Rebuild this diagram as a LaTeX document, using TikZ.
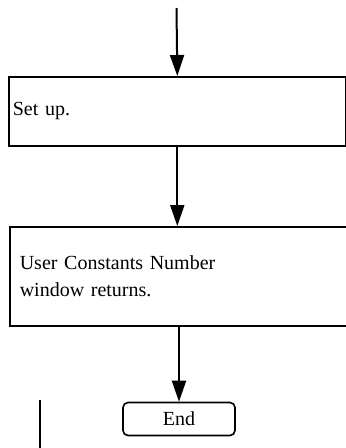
\documentclass[tikz,border=0pt]{standalone}
\usepackage{fontspec}
\setmainfont{Liberation Serif}
\usetikzlibrary{arrows.meta}
\begin{document}
\begin{tikzpicture}[x=1pt,y=-1pt,
  box/.style={draw,line width=1.6pt,anchor=north west,inner xsep=4pt,
    text width=329pt,align=left,font=\fontsize{20}{27}\selectfont},
  endbox/.style={draw,line width=1.6pt,rounded corners=5pt,minimum width=112pt,
    minimum height=33pt,font=\fontsize{20}{24}\selectfont},
  arr/.style={line width=2pt,-{Triangle[length=21pt,width=14pt]}}]
\useasboundingbox (0,0) rectangle (346,448);
\node[box,minimum height=69pt] (b1) at (8,76) {Set up.};
\node[box,minimum height=99pt,inner xsep=10pt,text width=317pt] (b2) at (9,226) {User Constants Number\\window returns.};
\node[endbox] (e) at (179,419) {End};
\coordinate (top) at (176.5,8);
\draw[arr] (top) -- (b1.north);
\draw[arr] (b1.south) -- (b1.south |- b2.north);
\draw[arr] (b2.south -| e.north) -- (e.north);
\coordinate (l1) at (40,400);
\coordinate (l2) at (40,448);
\draw[line width=1.2pt] (l1) -- (l2);
\end{tikzpicture}
\end{document}
